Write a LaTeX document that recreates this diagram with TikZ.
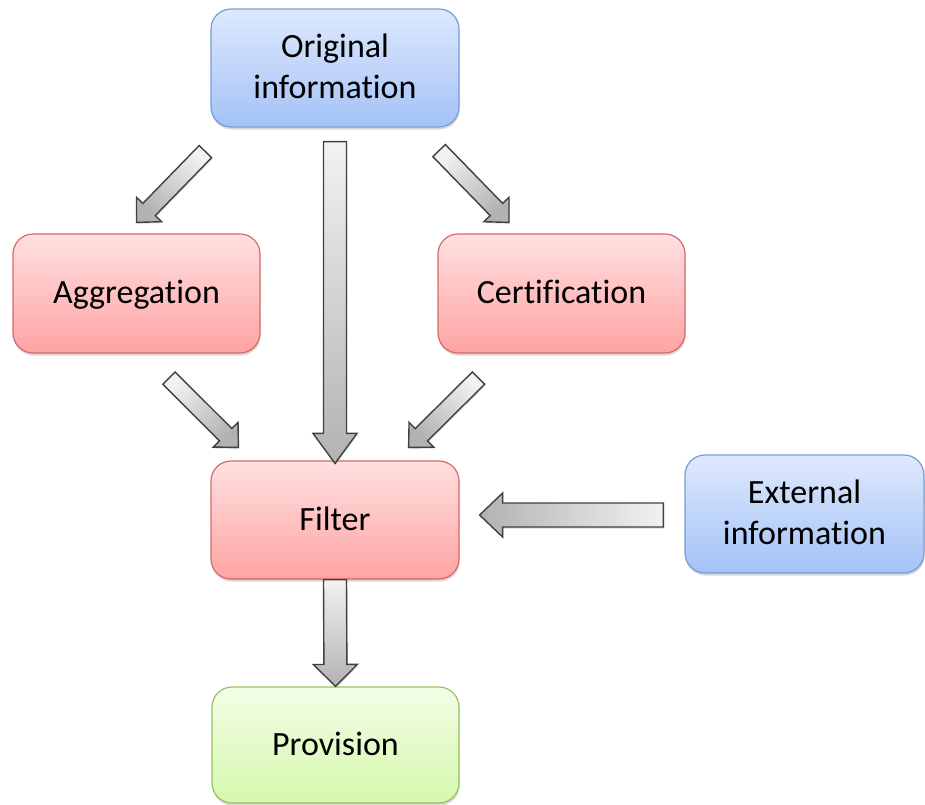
\documentclass[tikz,border=0pt]{standalone}
\usepackage{fontspec}
\setmainfont{Carlito}[RawFeature={-liga;-clig;-calt;-dlig;-rlig}]
\usetikzlibrary{calc,shadows}
\definecolor{bluetop}{RGB}{222,233,253}
\definecolor{bluebot}{RGB}{163,194,247}
\definecolor{blueline}{RGB}{120,155,215}
\definecolor{redtop}{RGB}{255,224,224}
\definecolor{redbot}{RGB}{255,163,163}
\definecolor{redline}{RGB}{215,105,105}
\definecolor{greentop}{RGB}{243,253,230}
\definecolor{greenbot}{RGB}{214,248,172}
\definecolor{greenline}{RGB}{150,195,95}
\definecolor{arrlight}{RGB}{242,242,242}
\definecolor{arrdark}{RGB}{178,178,178}
\definecolor{arrline}{RGB}{64,64,64}
\tikzset{
  box/.style={rounded corners=20pt, minimum width=248pt, minimum height=118pt,
    align=center, inner sep=0pt, line width=1.2pt,
    font=\fontsize{34}{41.5}\selectfont, text height=25pt, text depth=5pt,
    drop shadow={shadow xshift=0.6pt, shadow yshift=-2.5pt, opacity=0.3}},
  twolines/.style={text height=66.5pt, text depth=5pt},
  bluebox/.style={box, draw=blueline, top color=bluetop, bottom color=bluebot},
  redbox/.style={box, draw=redline, top color=redtop, bottom color=redbot},
  greenbox/.style={box, draw=greenline, top color=greentop, bottom color=greenbot},
  fatarrowstyle/.style={draw=arrline, line width=1.4pt, line join=miter,
    top color=arrlight, bottom color=arrdark,
    drop shadow={shadow xshift=0.8pt, shadow yshift=-1.5pt, opacity=0.25}}
}
% #1 tail, #2 tip, #3 half shaft width, #4 half head width, #5 head length, #6 shading angle
\newcommand\fatarrow[6]{%
  \coordinate (#1#2b) at ($(#2)!#5pt!(#1)$);
  \draw[fatarrowstyle, shading angle=#6]
    ($(#1)!#3pt!90:(#2)$) -- ($(#1#2b)!#3pt!90:(#2)$) -- ($(#1#2b)!#4pt!90:(#2)$)
    -- (#2) -- ($(#1#2b)!#4pt!-90:(#2)$) -- ($(#1#2b)!#3pt!-90:(#2)$)
    -- ($(#1)!#3pt!-90:(#2)$) -- cycle;}
\begin{document}
\begin{tikzpicture}[x=1pt,y=-1pt]
\useasboundingbox (0,0) rectangle (925,804);
\node[bluebox, twolines] (orig) at (335,68) {Original\\informat\kern0pt ion};
\node[redbox, minimum width=247pt, minimum height=119pt] (agg) at (136.5,293.5) {Aggregat\kern0pt ion};
\node[redbox, minimum width=247pt, minimum height=119pt] (cert) at (561.5,293.5) {Certif\kern0pt icat\kern0pt ion};
\node[redbox] (filter) at (335,520) {Filter};
\node[bluebox, twolines, minimum width=239pt] (ext) at (804.5,514) {External\\informat\kern0pt ion};
\node[greenbox, minimum width=247pt, minimum height=116pt] (prov) at (335.5,745) {Provision};
% connector ends
\coordinate (oa1) at ($(orig.south west)+(-5,24)$);
\coordinate (oa2) at ($(agg.north)+(0,-11)$);
\coordinate (oc1) at ($(orig.south east)+(-20.5,23)$);
\coordinate (oc2) at ($(cert.north)+(-52.5,-11)$);
\coordinate (af1) at ($(agg.south)+(32.5,24.5)$);
\coordinate (af2) at ($(filter.north west)+(28,-13)$);
\coordinate (cf1) at ($(cert.south)+(-83,24.5)$);
\coordinate (cf2) at ($(filter.north east)+(-51,-13)$);
\coordinate (of1) at ($(orig.south)+(0,14)$);
\coordinate (of2) at ($(filter.north)+(0,3)$);
\coordinate (fp1) at (filter.south);
\coordinate (fp2) at (prov.north);
\coordinate (ef1) at ($(ext.west)+(-21,1)$);
\coordinate (ef2) at ($(filter.east |- ef1)+(20,0)$);
% connectors
\fatarrow{oa1}{oa2}{8.7}{17.5}{18}{-45}
\fatarrow{oc1}{oc2}{8.7}{17.5}{18}{45}
\fatarrow{af1}{af2}{8.7}{17.5}{18}{45}
\fatarrow{cf1}{cf2}{8.7}{17.5}{18}{-45}
\fatarrow{of1}{of2}{11.5}{22}{30}{0}
\fatarrow{fp1}{fp2}{11.5}{22}{22}{0}
\fatarrow{ef1}{ef2}{12}{22}{23}{-90}
\end{tikzpicture}
\end{document}
